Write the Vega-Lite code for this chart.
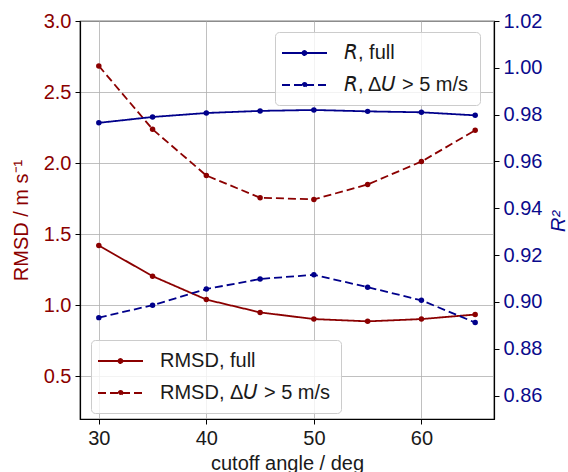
{
  "$schema": "https://vega.github.io/schema/vega-lite/v6.json",
  "width": 414,
  "height": 398,
  "autosize": {"type": "none"},
  "padding": {"left": 80, "top": 21, "right": 74, "bottom": 53},
  "config": {
    "font": "Liberation Sans",
    "view": {"stroke": "black", "strokeWidth": 1.2},
    "axis": {
      "labelFont": "Liberation Sans",
      "titleFont": "Liberation Sans",
      "labelFontSize": 20,
      "titleFontSize": 20,
      "titleFontWeight": "normal",
      "tickSize": 5,
      "tickColor": "black",
      "tickWidth": 1,
      "domainColor": "black",
      "domainWidth": 1.2,
      "labelPadding": 4,
      "gridColor": "#b0b0b0",
      "gridWidth": 0.8
    },
    "legend": {
      "labelFont": "Liberation Sans",
      "labelFontSize": 20,
      "labelColor": "#1a1a1a",
      "symbolType": "M-1.4,0H3.1M0.65,0A0.2,0.2,0,1,1,1.05,0A0.2,0.2,0,1,1,0.65,0",
      "symbolSize": 400,
      "symbolStrokeWidth": 1.8,
      "fillColor": "rgba(255,255,255,0.8)",
      "strokeColor": "#cccccc",
      "cornerRadius": 4,
      "padding": 10,
      "rowPadding": 11,
      "labelOffset": 37,
      "labelLimit": 400
    }
  },
  "datasets": {
    "rmsd": [
      {"angle": 30, "series": "RMSD, full", "value": 1.42},
      {"angle": 35, "series": "RMSD, full", "value": 1.205},
      {"angle": 40, "series": "RMSD, full", "value": 1.04},
      {"angle": 45, "series": "RMSD, full", "value": 0.95},
      {"angle": 50, "series": "RMSD, full", "value": 0.903},
      {"angle": 55, "series": "RMSD, full", "value": 0.887},
      {"angle": 60, "series": "RMSD, full", "value": 0.903},
      {"angle": 65, "series": "RMSD, full", "value": 0.935},
      {"angle": 30, "series": "RMSD, Δ𝘜 > 5 m/s", "value": 2.684},
      {"angle": 35, "series": "RMSD, Δ𝘜 > 5 m/s", "value": 2.238},
      {"angle": 40, "series": "RMSD, Δ𝘜 > 5 m/s", "value": 1.913},
      {"angle": 45, "series": "RMSD, Δ𝘜 > 5 m/s", "value": 1.757},
      {"angle": 50, "series": "RMSD, Δ𝘜 > 5 m/s", "value": 1.745},
      {"angle": 55, "series": "RMSD, Δ𝘜 > 5 m/s", "value": 1.85},
      {"angle": 60, "series": "RMSD, Δ𝘜 > 5 m/s", "value": 2.011},
      {"angle": 65, "series": "RMSD, Δ𝘜 > 5 m/s", "value": 2.231}
    ],
    "r": [
      {"angle": 30, "series": "𝘙, full", "value": 0.9765},
      {"angle": 35, "series": "𝘙, full", "value": 0.979},
      {"angle": 40, "series": "𝘙, full", "value": 0.9807},
      {"angle": 45, "series": "𝘙, full", "value": 0.9816},
      {"angle": 50, "series": "𝘙, full", "value": 0.982},
      {"angle": 55, "series": "𝘙, full", "value": 0.9814},
      {"angle": 60, "series": "𝘙, full", "value": 0.981},
      {"angle": 65, "series": "𝘙, full", "value": 0.9797},
      {"angle": 30, "series": "𝘙, Δ𝘜 > 5 m/s", "value": 0.8933},
      {"angle": 35, "series": "𝘙, Δ𝘜 > 5 m/s", "value": 0.8986},
      {"angle": 40, "series": "𝘙, Δ𝘜 > 5 m/s", "value": 0.9055},
      {"angle": 45, "series": "𝘙, Δ𝘜 > 5 m/s", "value": 0.9098},
      {"angle": 50, "series": "𝘙, Δ𝘜 > 5 m/s", "value": 0.9116},
      {"angle": 55, "series": "𝘙, Δ𝘜 > 5 m/s", "value": 0.9063},
      {"angle": 60, "series": "𝘙, Δ𝘜 > 5 m/s", "value": 0.9007},
      {"angle": 65, "series": "𝘙, Δ𝘜 > 5 m/s", "value": 0.8912}
    ]
  },
  "layer": [
    {
      "data": {"name": "rmsd"},
      "mark": {"type": "line", "strokeWidth": 1.8, "point": {"filled": true, "size": 30}},
      "encoding": {
        "x": {
          "field": "angle", "type": "quantitative",
          "scale": {"domain": [28.25, 66.75], "nice": false, "zero": false},
          "axis": {"values": [30, 40, 50, 60], "title": "cutoff angle / deg", "labelColor": "#1a1a1a", "titleColor": "#1a1a1a", "grid": true, "titlePadding": 5}
        },
        "y": {
          "field": "value", "type": "quantitative",
          "scale": {"domain": [0.2, 3.0], "nice": false, "zero": false},
          "axis": {"values": [0.5, 1.0, 1.5, 2.0, 2.5, 3.0], "format": ".1f", "title": "RMSD / m s⁻¹", "labelColor": "#8b0000", "titleColor": "#8b0000", "grid": true, "titlePadding": 12}
        },
        "color": {
          "field": "series", "type": "nominal",
          "scale": {"domain": ["RMSD, full", "RMSD, Δ𝘜 > 5 m/s"], "range": ["#8b0000", "#8b0000"]},
          "legend": {"orient": "none", "legendX": 11, "legendY": 319, "title": null, "symbolFillColor": "#8b0000"}
        },
        "strokeDash": {
          "field": "series", "type": "nominal",
          "scale": {"domain": ["RMSD, full", "RMSD, Δ𝘜 > 5 m/s"], "range": [[1, 0], [8, 4]]},
          "legend": {"orient": "none", "legendX": 11, "legendY": 319, "title": null, "symbolFillColor": "#8b0000"}
        }
      }
    },
    {
      "data": {"name": "r"},
      "mark": {"type": "line", "strokeWidth": 1.8, "point": {"filled": true, "size": 30}},
      "encoding": {
        "x": {"field": "angle", "type": "quantitative", "scale": {"domain": [28.25, 66.75], "nice": false, "zero": false}},
        "y": {
          "field": "value", "type": "quantitative",
          "scale": {"domain": [0.85, 1.02], "nice": false, "zero": false},
          "axis": {"orient": "right", "values": [0.86, 0.88, 0.9, 0.92, 0.94, 0.96, 0.98, 1.0, 1.02], "format": ".2f", "title": "R²", "titleFontStyle": "italic", "titleAngle": 270, "titleX": 64, "titleY": 200, "titleAlign": "center", "titleBaseline": "middle", "labelColor": "#0a0a8c", "titleColor": "#0a0a8c", "grid": false}
        },
        "color": {
          "field": "series", "type": "nominal",
          "scale": {"domain": ["𝘙, full", "𝘙, Δ𝘜 > 5 m/s"], "range": ["#00008b", "#00008b"]},
          "legend": {"orient": "none", "legendX": 195, "legendY": 11, "title": null, "symbolFillColor": "#00008b"}
        },
        "strokeDash": {
          "field": "series", "type": "nominal",
          "scale": {"domain": ["𝘙, full", "𝘙, Δ𝘜 > 5 m/s"], "range": [[1, 0], [8, 4]]},
          "legend": {"orient": "none", "legendX": 195, "legendY": 11, "title": null, "symbolFillColor": "#00008b"}
        }
      }
    }
  ],
  "resolve": {"scale": {"y": "independent", "color": "independent", "strokeDash": "independent"}}
}
